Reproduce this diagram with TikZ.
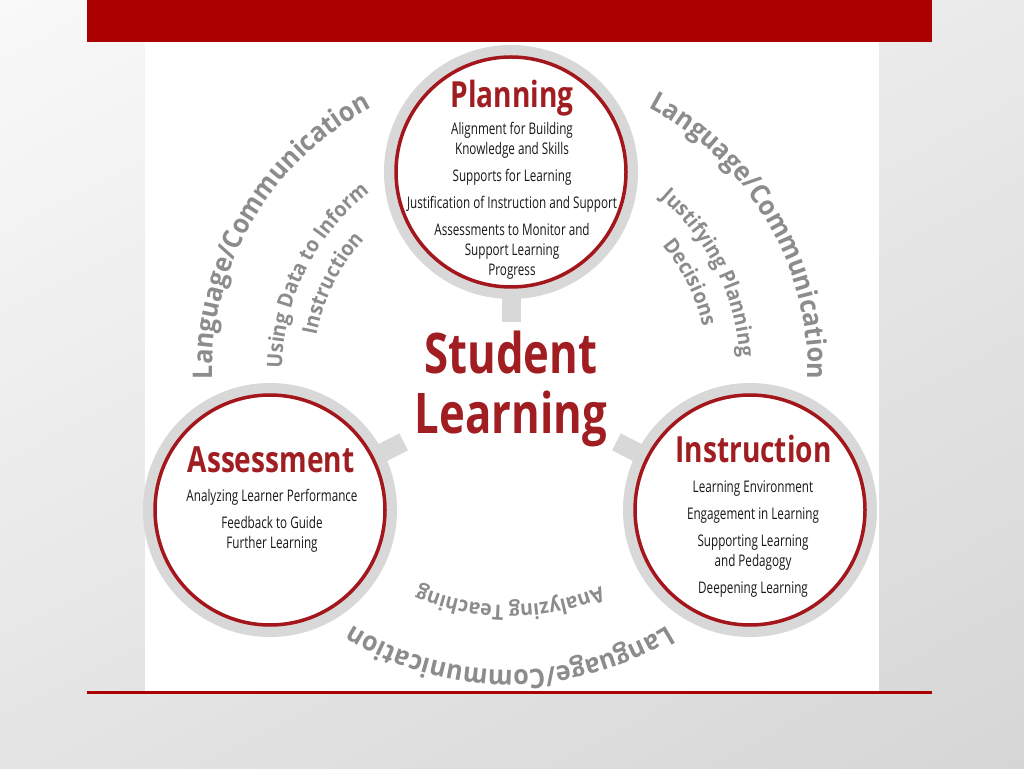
\documentclass[tikz,border=0pt]{standalone}
\usepackage{fontspec}
\setmainfont{Open Sans}
\newfontfamily\bodyfont[FakeStretch=0.73]{Open Sans}
\newfontfamily\headfont[FakeStretch=0.78]{Open Sans}
\newfontfamily\arcfont[FakeStretch=0.93]{Open Sans}
\usetikzlibrary{decorations.text,shadings}
\definecolor{barred}{HTML}{AA0000}
\definecolor{ringred}{HTML}{A3161C}
\definecolor{titlered}{HTML}{A01D22}
\definecolor{ringgray}{HTML}{D8D8D8}
\definecolor{arcgray}{HTML}{8C8C8C}
\definecolor{bodyblack}{HTML}{1A1718}
\definecolor{bgul}{HTML}{F9F9F9}
\definecolor{bgur}{HTML}{EAEAEA}
\definecolor{bgll}{HTML}{E4E4E4}
\definecolor{bglr}{HTML}{D6D6D6}
\newcommand\outerarcfont{\arcfont\bfseries\fontsize{27}{32}\selectfont}
\newcommand\innerarcfont{\arcfont\bfseries\fontsize{21}{25}\selectfont}
\pgfdeclarelayer{back}
\pgfdeclarelayer{mid}
\pgfsetlayers{back,mid,main}
\tikzset{
  ring/.style={circle, draw=ringgray, line width=11pt, fill=white, inner sep=0pt, minimum size=243pt},
  redring/.style={draw=ringred, line width=3.5pt},
  stem/.style={draw=ringgray, line width=19pt},
  titletext/.style={font=\headfont\bfseries\fontsize{36}{40}\selectfont, text=titlered, inner sep=0pt, anchor=base},
  bodytext/.style={font=\bodyfont\fontsize{16}{20}\selectfont, text=bodyblack, inner sep=0pt, anchor=north, align=center},
  arcouter/.style={decorate, decoration={text along path, text align=center, text color=arcgray, text={|\outerarcfont|#1}}},
  arcinner/.style={decorate, decoration={text along path, text align=center, text color=arcgray, text={|\innerarcfont|#1}}}
}
\begin{document}
\begin{tikzpicture}[x=1pt,y=1pt]
\useasboundingbox (0,0) rectangle (1024,768);
\begin{pgfonlayer}{back}
  \shade[upper left=bgul, upper right=bgur, lower left=bgll, lower right=bglr] (0,0) rectangle (1024,768);
  \fill[white] (145,76) rectangle (879,726);
  \fill[barred] (87,726) rectangle (932,768);
  \fill[barred] (87,74.5) rectangle (932,77.5);
\end{pgfonlayer}

\coordinate (C) at (510,396);

% circles
\node[ring] (P) at (511,596) {};
\node[ring] (A) at (270,258) {};
\node[ring] (I) at (750,258) {};
\draw[redring] (P.center) circle[radius=115];
\draw[redring] (A.center) circle[radius=115];
\draw[redring] (I.center) circle[radius=115];

% stems
\coordinate (sP) at (511,446);
\coordinate (sA) at (403.6,326.1);
\coordinate (sI) at (616.4,326.1);
\begin{pgfonlayer}{mid}
  \draw[stem] (P.center) -- (sP);
  \draw[stem] (A.center) -- (sA);
  \draw[stem] (I.center) -- (sI);
\end{pgfonlayer}

% center text
\node[font=\headfont\bfseries\fontsize{56}{60}\selectfont, text=titlered, inner sep=0pt, anchor=north, align=center]
  (SL) at (511,437.6) {Student\\Learning};

% Planning
\node[titletext] (Pt) at (512,660) {Planning};
\node[bodytext] (Pb) at (512,646.2) {Alignment for Building\\Knowledge and Skills\\[7pt]Supports for Learning\\[7pt]Justification of Instruction and Support\\[7pt]Assessments to Monitor and\\Support Learning\\Progress};

% Assessment
\node[titletext] (At) at (271,295) {Assessment};
\node[bodytext] (Ab) at (272,279.2) {Analyzing Learner Performance\\[7pt]Feedback to Guide\\Further Learning};

% Instruction
\node[titletext] (It) at (753.5,305) {Instruction};
\node[bodytext] (Ib) at (753,287.2) {Learning Environment\\[7pt]Engagement in Learning\\[7pt]Supporting Learning\\and Pedagogy\\[7pt]Deepening Learning};

% arc texts (clockwise paths, letters point outward)
\path[arcouter={Language/Communication}] (C) ++(199.5:298) arc[start angle=199.5, end angle=99.5, radius=298];
\path[arcouter={Language/Communication}] (C) ++(80.5:298) arc[start angle=80.5, end angle=-19.5, radius=298];
\path[arcouter={Language/Communication}] (C) ++(-40:298) arc[start angle=-40, end angle=-140, radius=298];

\path[arcinner={Using Data to Inform}] (C) ++(213.5:228) arc[start angle=213.5, end angle=93.5, radius=228];
\path[arcinner={Instruction}] (C) ++(213.5:197) arc[start angle=213.5, end angle=93.5, radius=197];
\path[arcinner={Justifying Planning}] (C) ++(86.5:230) arc[start angle=86.5, end angle=-33.5, radius=230];
\path[arcinner={Decisions}] (C) ++(86.5:198) arc[start angle=86.5, end angle=-33.5, radius=198];
\path[arcinner={Analyzing Teaching}] (C) ++(-30:233) arc[start angle=-30, end angle=-150, radius=233];
\end{tikzpicture}
\end{document}
